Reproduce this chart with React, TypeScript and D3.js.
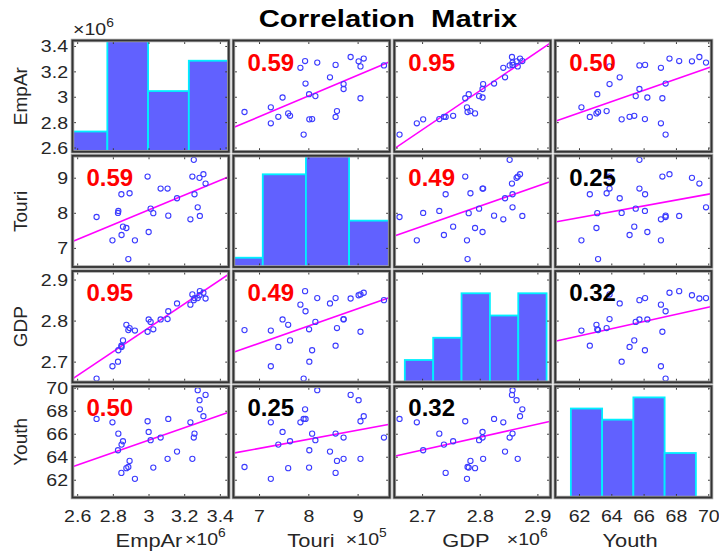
import React, { useEffect, useRef } from 'react';
import * as d3 from 'd3';

// variables (values in the scaled units shown on the axes)
const varNames = ['EmpAr', 'Touri', 'GDP', 'Youth'];
const varExponents = ['6', '5', '6', ''];

const empAr = [2.706, 2.795, 2.826, 2.828, 2.845, 2.846, 2.854, 2.873, 2.884, 2.891, 2.921, 2.992, 2.998, 3.009,
    3.024, 3.065, 3.104, 3.108, 3.157, 3.232, 3.243, 3.251, 3.255, 3.273, 3.283, 3.285, 3.305, 3.317];
const touri = [7.895, 7.229, 8.01, 8.067, 8.543, 7.381, 7.619, 7.581, 6.695, 8.571, 7.229, 9.048, 7.467, 8.133,
    8.005, 8.705, 8.705, 7.933, 8.429, 7.829, 9.048, 9.524, 8.543, 8.171, 9.01, 7.924, 9.114, 8.848];
const gdp = [2.660, 2.690, 2.701, 2.729, 2.740, 2.737, 2.753, 2.791, 2.778, 2.783, 2.777, 2.774, 2.804, 2.798,
    2.780, 2.804, 2.805, 2.824, 2.843, 2.840, 2.865, 2.851, 2.856, 2.856, 2.863, 2.873, 2.869, 2.855];
const youth = [67.33, 67.04, 64.61, 66.05, 62.64, 65.10, 65.39, 63.05, 63.15, 63.68, 62.12, 67.13, 66.20, 65.48,
    63.10, 65.71, 63.86, 67.33, 64.49, 67.04, 63.86, 65.71, 66.06, 69.83, 68.96, 68.17, 67.57, 69.42];

// axis limits of the scatter axes
const empArLim = [2.571, 3.447];
const touriLim = [6.47, 9.64];
const gdpLim = [2.651, 2.922];
const youthLim = [60.5, 70.17];

// tick values
const empArTicks = [2.6, 2.8, 3, 3.2, 3.4];
const touriTicks = [7, 8, 9];
const gdpTicks = [2.7, 2.8, 2.9];
const youthTicks = [62, 64, 66, 68, 70];

// histogram bin edges, x limits of the histogram axes, y max
const empArBins = [2.6, 2.8, 3.0, 3.2, 3.4];
const touriBins = [6, 7, 8, 9, 10];
const gdpBins = [2.65, 2.70, 2.75, 2.80, 2.85, 2.90];
const youthBins = [62, 64, 66, 68, 70];
const histLims = [[2.629, 3.396], [6.32, 9.94], [2.6315, 2.907], [61.0, 71.0]];
const histMax = [11, 12, 10, 10];

// correlation coefficients, pairs (0,1) (0,2) (0,3) (1,2) (1,3) (2,3)
const corrCoefs = [0.59, 0.95, 0.50, 0.49, 0.25, 0.32];

const FONT = 'Liberation Sans, Arial, Helvetica, sans-serif';
const SX = 1.15;

const App = () => {
    const ref = useRef<SVGSVGElement>(null);

    useEffect(() => {
        const svg = d3.select(ref.current);
        svg.selectAll('*').remove();

        const cols = [empAr, touri, gdp, youth];
        const lims = [empArLim, touriLim, gdpLim, youthLim];
        const ticks = [empArTicks, touriTicks, gdpTicks, youthTicks];
        const bins = [empArBins, touriBins, gdpBins, youthBins];
        const idx = [0, 1, 2, 3];

        const gx = d3.scaleBand<number>().domain(idx).range([72.5, 711.5]).paddingInner(0.029);
        const gy = d3.scaleBand<number>().domain(idx).range([40.5, 497.5]).paddingInner(0.035);
        const bw = gx.bandwidth();
        const bh = gy.bandwidth();

        const xs = lims.map((l, j) => d3.scaleLinear().domain(l).range([gx(j)!, gx(j)! + bw]));
        const ys = lims.map((l, i) => d3.scaleLinear().domain(l).range([gy(i)! + bh, gy(i)!]));

        const pairIndex = (a: number, b: number) => {
            const lo = Math.min(a, b), hi = Math.max(a, b);
            const list = [[0, 1], [0, 2], [0, 3], [1, 2], [1, 3], [2, 3]];
            return list.findIndex(p => p[0] === lo && p[1] === hi);
        };

        const defs = svg.append('defs');

        idx.forEach(i => {
            idx.forEach(j => {
                const x0 = gx(j)!, y0 = gy(i)!;
                const clipId = `clip-${i}-${j}`;
                defs.append('clipPath').attr('id', clipId)
                    .append('rect').attr('x', x0).attr('y', y0).attr('width', bw).attr('height', bh);

                const g = svg.append('g');
                g.append('rect').attr('x', x0).attr('y', y0).attr('width', bw).attr('height', bh).attr('fill', '#fff');
                const inner = g.append('g').attr('clip-path', `url(#${clipId})`);

                if (i === j) {
                    const hx = d3.scaleLinear().domain(histLims[j]).range([x0, x0 + bw]);
                    const hy = d3.scaleLinear().domain([0, histMax[j]]).range([y0 + bh, y0]);
                    const e = bins[j];
                    const hist = d3.bin().domain([e[0], e[e.length - 1]]).thresholds(e.slice(1, -1))(cols[j]);
                    inner.selectAll('rect.bar')
                        .data(hist)
                        .enter()
                        .append('rect')
                        .attr('class', 'bar')
                        .attr('x', d => hx(d.x0!))
                        .attr('width', d => hx(d.x1!) - hx(d.x0!))
                        .attr('y', d => hy(d.length))
                        .attr('height', d => hy(0) - hy(d.length))
                        .attr('fill', '#6161ff')
                        .attr('stroke', '#00f0ff')
                        .attr('stroke-width', 1.8);
                } else {
                    const xv = cols[j], yv = cols[i];
                    const mx = d3.mean(xv)!, my = d3.mean(yv)!;
                    const sxy = d3.sum(xv, (v, k) => (v - mx) * (yv[k] - my));
                    const sxx = d3.sum(xv, v => (v - mx) * (v - mx));
                    const slope = sxy / sxx;
                    const lx = lims[j];
                    inner.append('line')
                        .attr('x1', xs[j](lx[0])).attr('y1', ys[i](my + slope * (lx[0] - mx)))
                        .attr('x2', xs[j](lx[1])).attr('y2', ys[i](my + slope * (lx[1] - mx)))
                        .attr('stroke', '#ff00ff')
                        .attr('stroke-width', 1.6);
                    inner.selectAll('circle')
                        .data(xv)
                        .enter()
                        .append('circle')
                        .attr('cx', d => xs[j](d))
                        .attr('cy', (d, k) => ys[i](yv[k]))
                        .attr('r', 2.6)
                        .attr('fill', 'none')
                        .attr('stroke', '#3c3cff')
                        .attr('stroke-width', 1.1);
                    const r = corrCoefs[pairIndex(i, j)];
                    g.append('text')
                        .attr('x', x0 + 14)
                        .attr('y', y0 + 30)
                        .attr('font-family', FONT)
                        .attr('font-weight', 'bold')
                        .attr('font-size', 24)
                        .attr('fill', Math.abs(r) > 0.374 ? '#ff0000' : '#000000')
                        .text(r.toFixed(2));
                }

                // ticks on all four sides
                const tk = 3.5;
                ticks[j].forEach(t => {
                    const px = xs[j](t);
                    g.append('line').attr('x1', px).attr('x2', px).attr('y1', y0 + bh).attr('y2', y0 + bh - tk)
                        .attr('stroke', '#3a3a3a').attr('stroke-width', 1);
                    g.append('line').attr('x1', px).attr('x2', px).attr('y1', y0).attr('y2', y0 + tk)
                        .attr('stroke', '#3a3a3a').attr('stroke-width', 1);
                });
                ticks[i].forEach(t => {
                    const py = ys[i](t);
                    g.append('line').attr('x1', x0).attr('x2', x0 + tk).attr('y1', py).attr('y2', py)
                        .attr('stroke', '#3a3a3a').attr('stroke-width', 1);
                    g.append('line').attr('x1', x0 + bw).attr('x2', x0 + bw - tk).attr('y1', py).attr('y2', py)
                        .attr('stroke', '#3a3a3a').attr('stroke-width', 1);
                });

                // frame
                g.append('rect').attr('x', x0).attr('y', y0).attr('width', bw).attr('height', bh)
                    .attr('fill', 'none').attr('stroke', '#a0a0a0').attr('stroke-width', 3.5);
                g.append('rect').attr('x', x0).attr('y', y0).attr('width', bw).attr('height', bh)
                    .attr('fill', 'none').attr('stroke', '#333').attr('stroke-width', 1.8);
            });
        });

        const label = (x: number, y: number, txt: string, size: number, anchor: string) =>
            svg.append('text')
                .attr('transform', `translate(${x},${y}) scale(${SX},1)`)
                .attr('font-family', FONT)
                .attr('font-size', size)
                .attr('fill', '#262626')
                .attr('text-anchor', anchor)
                .text(txt);

        // left tick labels and names
        idx.forEach(i => {
            ticks[i].forEach(t => label(gx(0)! - 4.5, ys[i](t) + 6, String(t), 17, 'end'));
            svg.append('text')
                .attr('transform', `translate(27,${gy(i)! + bh / 2}) rotate(-90)`)
                .attr('font-family', FONT)
                .attr('font-size', 19)
                .attr('fill', '#262626')
                .attr('text-anchor', 'middle')
                .text(varNames[i]);
        });

        // bottom tick labels, names and exponents
        const nameCenters = [149, 311, 466, 630];
        idx.forEach(j => {
            ticks[j].forEach(t => label(xs[j](t), 522, String(t), 17, 'middle'));
            label(nameCenters[j], 547, varNames[j], 19, 'middle');
            if (varExponents[j]) {
                const ex = svg.append('text')
                    .attr('transform', `translate(${gx(j)! + bw - 3},545) scale(${SX},1)`)
                    .attr('font-family', FONT)
                    .attr('font-size', 17)
                    .attr('fill', '#262626')
                    .attr('text-anchor', 'end');
                ex.append('tspan').text('\u00d710');
                ex.append('tspan').attr('dy', -8).attr('font-size', 12).text(varExponents[j]);
            }
        });

        // exponent on top of the first row
        const top = svg.append('text')
            .attr('transform', `translate(73,35) scale(${SX},1)`)
            .attr('font-family', FONT)
            .attr('font-size', 17)
            .attr('fill', '#262626');
        top.append('tspan').text('\u00d710');
        top.append('tspan').attr('dy', -8).attr('font-size', 12).text(varExponents[0]);

        // title
        svg.append('text')
            .attr('transform', 'translate(388,27) scale(1.22,1)')
            .attr('font-family', FONT)
            .attr('font-weight', 'bold')
            .attr('font-size', 24)
            .attr('fill', '#000')
            .attr('text-anchor', 'middle')
            .style('white-space', 'pre')
            .text('Correlation  Matrix');
    }, []);

    return (
        <svg ref={ref} width={719} height={554}
            style={{ position: 'absolute', left: 0, top: 0, background: '#fff' }} />
    );
};

export default App;
